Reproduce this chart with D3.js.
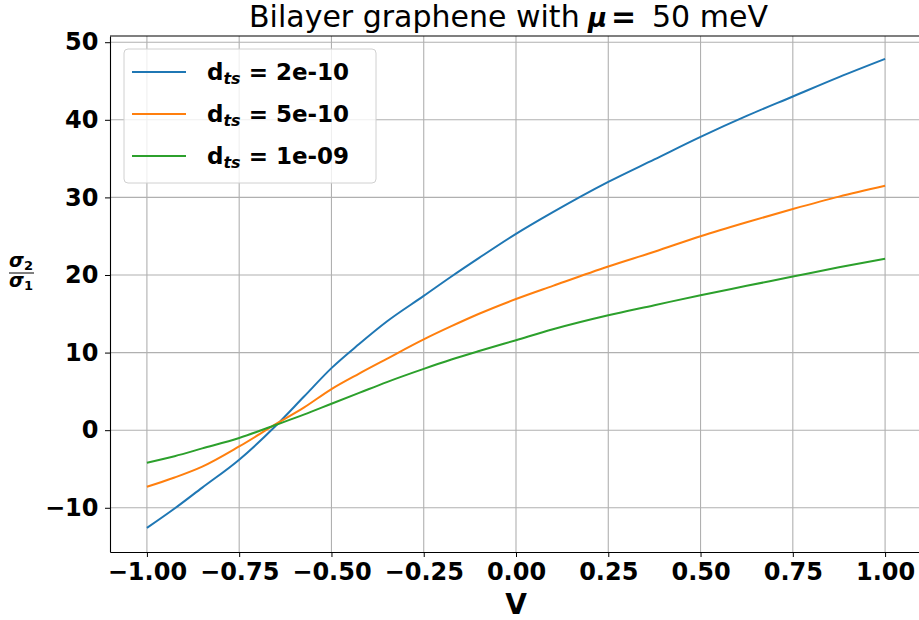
<!DOCTYPE html>
<html>
<head>
<meta charset="utf-8">
<script src="https://cdn.jsdelivr.net/npm/d3@7"></script>
<style>
  body { margin: 0; background: #fff; }
  svg { font-family: "DejaVu Sans", sans-serif; }
</style>
</head>
<body>
<div id="chart"></div>
<script>
// voltage samples and the three sigma ratio curves
const vValues = [-1.0, -0.925, -0.85, -0.75, -0.65, -0.575, -0.5, -0.425, -0.35, -0.25, -0.175, -0.1, 0.0, 0.1, 0.25, 0.375, 0.5, 0.625, 0.75, 0.875, 1.0];
const dts2e10 = [-12.6, -10.1, -7.4, -3.8, 0.6, 4.3, 8.0, 11.1, 14.0, 17.3, 19.8, 22.2, 25.3, 28.1, 32.0, 34.9, 37.8, 40.5, 43.0, 45.5, 47.85];
const dts5e10 = [-7.3, -6.1, -4.7, -2.1, 0.8, 2.9, 5.3, 7.3, 9.2, 11.7, 13.4, 15.0, 16.9, 18.6, 21.1, 23.0, 25.0, 26.8, 28.5, 30.1, 31.5];
const dts1e09 = [-4.2, -3.35, -2.35, -1.0, 0.7, 2.0, 3.4, 4.8, 6.2, 7.9, 9.1, 10.2, 11.6, 13.0, 14.8, 16.1, 17.4, 18.6, 19.8, 21.0, 22.1];
const seriesLabels = ["2e-10", "5e-10", "1e-09"];
const colors = ["#1f77b4", "#ff7f0e", "#2ca02c"];
const xTicks = [-1.0, -0.75, -0.5, -0.25, 0.0, 0.25, 0.5, 0.75, 1.0];
const yTicks = [-10, 0, 10, 20, 30, 40, 50];

const width = 919, height = 620;
const margin = {top: 36, right: -3, bottom: 68, left: 110};

const svg = d3.select("#chart").append("svg")
  .attr("width", width)
  .attr("height", height);

const x = d3.scaleLinear().domain([-1.1, 1.1]).range([margin.left, width - margin.right]);
const y = d3.scaleLinear().domain([-15.7, 50.8]).range([height - margin.bottom, margin.top]);

// grid
svg.append("g").selectAll("line").data(xTicks).enter().append("line")
  .attr("x1", d => x(d)).attr("x2", d => x(d))
  .attr("y1", y.range()[0]).attr("y2", y.range()[1])
  .attr("stroke", "#b0b0b0").attr("stroke-width", 1.1);
svg.append("g").selectAll("line").data(yTicks).enter().append("line")
  .attr("y1", d => y(d)).attr("y2", d => y(d))
  .attr("x1", x.range()[0]).attr("x2", x.range()[1])
  .attr("stroke", "#b0b0b0").attr("stroke-width", 1.1);

// curves
const allSeries = [dts2e10, dts5e10, dts1e09];
const line = d3.line().x(d => x(d[0])).y(d => y(d[1])).curve(d3.curveMonotoneX);
allSeries.forEach((s, i) => {
  svg.append("path")
    .datum(vValues.map((v, j) => [v, s[j]]))
    .attr("fill", "none")
    .attr("stroke", colors[i])
    .attr("stroke-width", 2)
    .attr("d", line);
});

// axes
const fmt = d => (d < 0 ? "\u2212" : "") + Math.abs(d).toFixed(2);
const xAxis = svg.append("g")
  .attr("transform", `translate(0,${y.range()[0]})`)
  .call(d3.axisBottom(x).tickValues(xTicks).tickFormat(fmt).tickSize(5).tickSizeOuter(0));
const yAxis = svg.append("g")
  .attr("transform", `translate(${x.range()[0]},0)`)
  .call(d3.axisLeft(y).tickValues(yTicks).tickFormat(d => (d < 0 ? "\u2212" : "") + Math.abs(d)).tickSize(5).tickSizeOuter(0));
[xAxis, yAxis].forEach(a => {
  a.selectAll("text").attr("font-family", "DejaVu Sans").attr("font-weight", "bold")
    .attr("font-size", 24).attr("fill", "#000");
  a.selectAll("line").attr("stroke", "#000").attr("stroke-width", 1);
  a.select(".domain").attr("stroke", "#000").attr("stroke-width", 1.1);
});
xAxis.selectAll("text").attr("dy", "0.84em");
yAxis.selectAll("text").attr("dx", "-0.15em");

// top spine
svg.append("line")
  .attr("x1", x.range()[0]).attr("x2", x.range()[1])
  .attr("y1", y.range()[1]).attr("y2", y.range()[1])
  .attr("stroke", "#000").attr("stroke-width", 1.1);

// title
const title = svg.append("g").attr("font-size", 30);
title.append("text").attr("x", 249).attr("y", 27).text("Bilayer graphene with");
title.append("text").attr("x", 588).attr("y", 27).attr("font-size", 26)
  .attr("font-weight", "bold").attr("font-style", "italic").text("\u03bc");
title.append("text").attr("x", 611).attr("y", 27).attr("font-weight", "bold").text("=");
title.append("text").attr("x", 652).attr("y", 27).text("50 meV");

// x label
svg.append("text")
  .attr("x", (x.range()[0] + x.range()[1]) / 2)
  .attr("y", 614)
  .attr("text-anchor", "middle")
  .attr("font-size", 28).attr("font-weight", "bold")
  .text("V");

// y label fraction
const yl = svg.append("g").attr("transform", "translate(21,273)")
  .attr("font-weight", "bold").attr("font-style", "italic").attr("font-size", 19);
const num = yl.append("text").attr("text-anchor", "middle").attr("y", -6);
num.append("tspan").text("\u03c3");
num.append("tspan").attr("font-size", 13).attr("font-style", "normal").attr("dy", 3).text("2");
const den = yl.append("text").attr("text-anchor", "middle").attr("y", 14);
den.append("tspan").text("\u03c3");
den.append("tspan").attr("font-size", 13).attr("font-style", "normal").attr("dy", 3).text("1");
yl.append("line").attr("x1", -12).attr("x2", 13).attr("y1", 0).attr("y2", 0)
  .attr("stroke", "#000").attr("stroke-width", 1);

// legend
const legend = svg.append("g").attr("transform", "translate(124,49)");
legend.append("rect")
  .attr("width", 252).attr("height", 134).attr("rx", 4)
  .attr("fill", "#fff").attr("fill-opacity", 0.8)
  .attr("stroke", "#d0d0d0").attr("stroke-width", 1);
seriesLabels.forEach((lab, i) => {
  const ly = 23 + i * 42;
  legend.append("line")
    .attr("x1", 8).attr("x2", 62).attr("y1", ly).attr("y2", ly)
    .attr("stroke", colors[i]).attr("stroke-width", 2);
  const t = legend.append("text")
    .attr("x", 83).attr("y", ly + 8)
    .attr("font-size", 23).attr("font-weight", "bold");
  t.append("tspan").text("d");
  t.append("tspan").attr("font-style", "italic").attr("font-size", 16).attr("dy", 4).text("ts");
  t.append("tspan").attr("dy", -4).text(" = " + lab);
});
</script>
</body>
</html>
